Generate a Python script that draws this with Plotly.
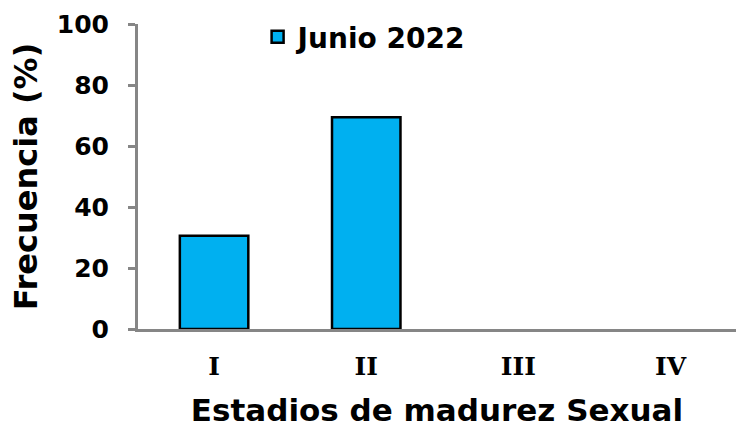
import plotly.graph_objects as go

categories = ["I", "II", "III", "IV"]
values = [30.6, 69.4, 0, 0]
series_name = "Junio 2022"
y_ticks = [0, 20, 40, 60, 80, 100]

FONT = "DejaVu Sans"

fig = go.Figure()
fig.add_trace(go.Bar(
    x=categories, y=values, name=series_name,
    marker=dict(color="#00B0F0",
                line=dict(color="black", width=[2.5 if v > 0 else 0 for v in values])),
    width=0.45,
))

fig.update_layout(
    width=736, height=428,
    margin=dict(l=138, r=0, t=24, b=99),
    plot_bgcolor="white", paper_bgcolor="white",
    font=dict(family=FONT, color="black", size=24, weight="bold"),
    showlegend=True,
    legend=dict(x=0.2, y=0.957, xanchor="left", yanchor="middle",
                font=dict(size=28, family=FONT, weight="bold"),
                bgcolor="rgba(0,0,0,0)", itemwidth=30),
)
fig.update_xaxes(
    range=[-0.5, 3.43], automargin=False,
    showline=True, linecolor="#868686", linewidth=3,
    ticks="", showgrid=False,
    tickfont=dict(size=25, family="DejaVu Serif", weight="bold"),
    ticklabelstandoff=13,
    title=dict(text="Estadios de madurez Sexual",
               font=dict(size=31, family=FONT, weight="bold"), standoff=24),
)
fig.update_yaxes(
    range=[0, 100], tickvals=y_ticks, automargin=False,
    showline=True, linecolor="#868686", linewidth=3,
    ticks="outside", ticklen=7, tickwidth=2.5, tickcolor="#868686",
    showgrid=False, zeroline=False,
    tickfont=dict(size=25, family=FONT, weight="bold"),
    ticklabelstandoff=14,
    title=dict(text="Frecuencia (%)",
               font=dict(size=32, family=FONT, weight="bold"), standoff=10),
)

fig.write_html("out.html", config={"displayModeBar": False},
               post_script="document.body.style.margin='0';")
